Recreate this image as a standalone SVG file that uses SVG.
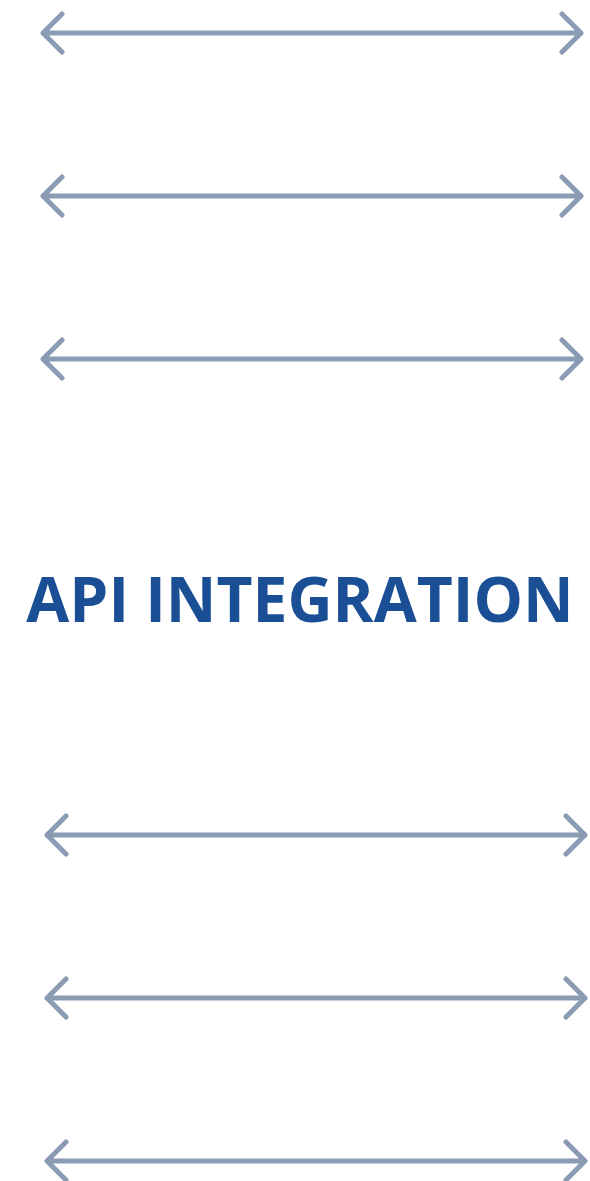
<svg xmlns="http://www.w3.org/2000/svg" width="590" height="1181" viewBox="0 0 590 1181">
<style>
.a{fill:none;stroke:#8a9bb3;stroke-width:5;stroke-linecap:round;stroke-linejoin:round}
.t{font-family:"Open Sans",sans-serif;font-weight:700;font-size:62.3px;fill:#1a4f95}
</style>
<rect width="590" height="1181" fill="#fff"/>
<g id="connectors">
<g id="arrow1" class="a"><path d="M43 33H581M62 14L43 33L62 52M562 14L581 33L562 52"/></g>
<g id="arrow2" class="a"><path d="M43 196H581M62 177L43 196L62 215M562 177L581 196L562 215"/></g>
<g id="arrow3" class="a"><path d="M43 359H581M62 340L43 359L62 378M562 340L581 359L562 378"/></g>
<g id="arrow4" class="a"><path d="M47 835H585M66 816L47 835L66 854M566 816L585 835L566 854"/></g>
<g id="arrow5" class="a"><path d="M47 998H585M66 979L47 998L66 1017M566 979L585 998L566 1017"/></g>
<g id="arrow6" class="a"><path d="M47 1161H585M66 1142L47 1161L66 1180M566 1142L585 1161L566 1180"/></g>
</g>
<g id="title"><text class="t" x="300" y="622" text-anchor="middle">API INTEGRATION</text></g>
</svg>
